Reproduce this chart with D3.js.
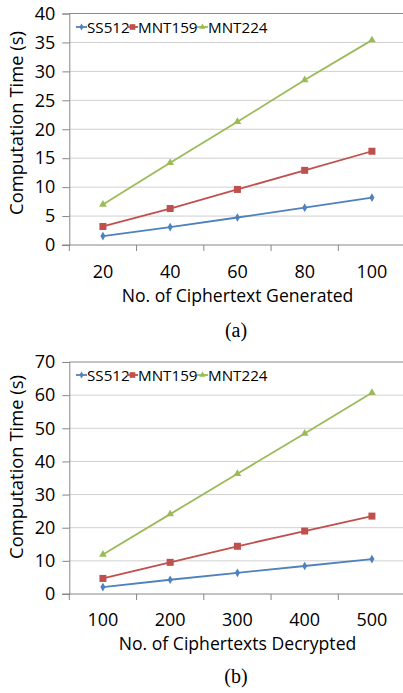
<!DOCTYPE html>
<html>
<head>
<meta charset="utf-8">
<script src="https://cdn.jsdelivr.net/npm/d3@7"></script>
<style>
  body { margin: 0; background: #fff; }
  text { font-family: "Open Sans", sans-serif; fill: #000; }
  .grid line { stroke: #d0d0d0; }
  .caption { font-family: "Liberation Serif", serif; }
</style>
</head>
<body>
<svg id="chart"></svg>
<script>
// series names and values
const seriesNames = ['SS512', 'MNT159', 'MNT224'];
const colors = ['#4f81bd', '#c0504d', '#9bbb59'];

const genCounts = [20, 40, 60, 80, 100];
const genSS512 = [1.55, 3.1, 4.75, 6.45, 8.2];
const genMNT159 = [3.2, 6.3, 9.6, 12.9, 16.2];
const genMNT224 = [7.0, 14.2, 21.3, 28.5, 35.4];
const genTicks = [0, 5, 10, 15, 20, 25, 30, 35, 40];

const decCounts = [100, 200, 300, 400, 500];
const decSS512 = [2.1, 4.3, 6.4, 8.45, 10.55];
const decMNT159 = [4.7, 9.55, 14.4, 19.0, 23.5];
const decMNT224 = [11.9, 24.1, 36.3, 48.4, 60.7];
const decTicks = [0, 10, 20, 30, 40, 50, 60, 70];

const width = 403;
const height = 693;

const svg = d3.select('#chart')
  .attr('width', width)
  .attr('height', height);

panel({
  top: 13.5, bottom: 245,
  cats: genCounts, series: [genSS512, genMNT159, genMNT224],
  ticks: genTicks, xTitle: 'No. of Ciphertext Generated', caption: '(a)',
  legendY: 27, yTitleY: 123, tickY: 278, titleY: 302, captionY: 337
});

panel({
  top: 362, bottom: 594,
  cats: decCounts, series: [decSS512, decMNT159, decMNT224],
  ticks: decTicks, xTitle: 'No. of Ciphertexts Decrypted', caption: '(b)',
  legendY: 375, yTitleY: 467, tickY: 626, titleY: 650, captionY: 683
});

function panel(p) {
  const left = 69.3;
  const band = 67.25;

  const x = d3.scaleBand()
    .domain(p.cats)
    .range([left, left + band * p.cats.length]);

  const y = d3.scaleLinear()
    .domain([0, d3.max(p.ticks)])
    .range([p.bottom, p.top]);

  const g = svg.append('g');

  // horizontal gridlines
  g.append('g')
    .attr('class', 'grid')
    .selectAll('line')
    .data(p.ticks.slice(1))
    .enter().append('line')
      .attr('x1', left)
      .attr('x2', width)
      .attr('y1', d => y(d))
      .attr('y2', d => y(d))
      .style('stroke', (d, i) => i === p.ticks.length - 2 ? '#8a8a8a' : null);

  // y axis
  const yAxis = g.append('g')
    .attr('transform', 'translate(' + left + ',0)')
    .call(d3.axisLeft(y).tickValues(p.ticks).tickSize(7).tickPadding(7));
  yAxis.select('.domain').attr('stroke', '#868686');
  yAxis.selectAll('.tick line').attr('stroke', '#868686');
  yAxis.selectAll('text')
    .style('font-size', '18px')
    .attr('fill', '#000');

  // x axis with ticks between categories
  g.append('line')
    .attr('x1', left - 7).attr('x2', width)
    .attr('y1', p.bottom).attr('y2', p.bottom)
    .attr('stroke', '#868686');

  g.selectAll('.xtick')
    .data(p.cats)
    .enter().append('line')
      .attr('class', 'xtick')
      .attr('x1', d => x(d)).attr('x2', d => x(d))
      .attr('y1', p.bottom).attr('y2', p.bottom + 6)
      .attr('stroke', '#868686');

  g.selectAll('.xlabel')
    .data(p.cats)
    .enter().append('text')
      .attr('class', 'xlabel')
      .attr('x', d => x(d) + x.bandwidth() / 2)
      .attr('y', p.tickY)
      .style('text-anchor', 'middle')
      .style('font-size', '18px')
      .text(d => d);

  g.append('text')
    .attr('x', 237.5)
    .attr('y', p.titleY)
    .style('text-anchor', 'middle')
    .style('font-size', '17.6px')
    .text(p.xTitle);

  g.append('text')
    .attr('transform', 'translate(23,' + p.yTitleY + ') rotate(-90)')
    .style('text-anchor', 'middle')
    .style('font-size', '18.4px')
    .text('Computation Time (s)');

  g.append('text')
    .attr('class', 'caption')
    .attr('x', 236)
    .attr('y', p.captionY)
    .style('text-anchor', 'middle')
    .style('font-size', '20px')
    .text(p.caption);

  const line = d3.line()
    .x((d, i) => x(p.cats[i]) + x.bandwidth() / 2)
    .y(d => y(d));

  p.series.forEach((vals, s) => {
    g.append('path')
      .attr('d', line(vals))
      .attr('fill', 'none')
      .attr('stroke', colors[s])
      .attr('stroke-width', 1.8);

    vals.forEach((v, i) => {
      marker(g, s, x(p.cats[i]) + x.bandwidth() / 2, y(v));
    });
  });

  // legend
  const lg = g.append('g')
    .attr('transform', 'translate(76,' + p.legendY + ')');
  const starts = [0, 51, 121];
  seriesNames.forEach((name, s) => {
    const item = lg.append('g').attr('transform', 'translate(' + starts[s] + ',0)');
    item.append('line')
      .attr('x1', 0).attr('x2', 11)
      .attr('stroke', colors[s])
      .attr('stroke-width', 1.8);
    marker(item, s, 5.5, 0, 0.8);
    item.append('text')
      .attr('x', 11)
      .attr('y', 5.5)
      .style('font-size', '15.2px')
      .text(name);
  });
}

function marker(g, s, cx, cy, k) {
  k = k || 1;
  const c = colors[s];
  if (s === 0) {
    g.append('path')
      .attr('d', d3.symbol(d3.symbolDiamond, 22 * k * k)())
      .attr('transform', 'translate(' + cx + ',' + cy + ')')
      .attr('fill', c);
  } else if (s === 1) {
    g.append('rect')
      .attr('x', cx - 3.5 * k).attr('y', cy - 3.5 * k)
      .attr('width', 7 * k).attr('height', 7 * k)
      .attr('fill', c);
  } else {
    g.append('path')
      .attr('d', d3.symbol(d3.symbolTriangle, 26 * k * k)())
      .attr('transform', 'translate(' + cx + ',' + cy + ')')
      .attr('fill', c);
  }
}
</script>
</body>
</html>
